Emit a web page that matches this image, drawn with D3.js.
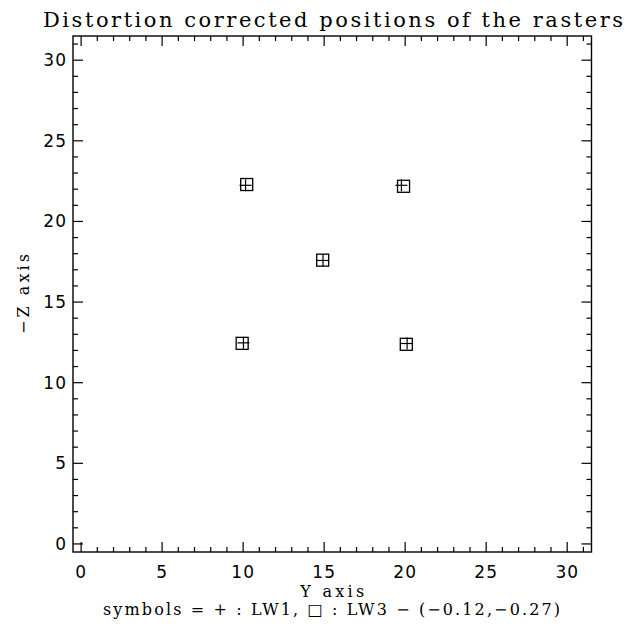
<!DOCTYPE html>
<html>
<head>
<meta charset="utf-8">
<script src="https://cdn.jsdelivr.net/npm/d3@7"></script>
<style>
  body { margin: 0; background: #fff; }
  svg { display: block; }
</style>
</head>
<body>
<div id="chart"></div>
<script>
// Positions (data units)
const plusY = [10.15, 19.77, 14.93, 10.02, 20.12];
const plusZ = [22.24, 22.24, 17.58, 12.47, 12.43];
const squareY = [10.22, 19.90, 14.91, 9.94, 20.07];
const squareZ = [22.29, 22.18, 17.60, 12.44, 12.38];
const majorTicks = [0, 5, 10, 15, 20, 25, 30];
const minorTicks = d3.range(0, 32);
const axisRange = [-0.5, 31.5];

const W = 626, H = 633;
const margin = {top: 36, right: 34.5, bottom: 81, left: 73};
const width = W - margin.left - margin.right,
      height = H - margin.top - margin.bottom;

const svg = d3.select("#chart").append("svg")
    .attr("width", W)
    .attr("height", H);

const g = svg.append("g")
    .attr("transform", `translate(${margin.left},${margin.top})`);

const x = d3.scaleLinear().domain(axisRange).range([0, width]);
const y = d3.scaleLinear().domain(axisRange).range([height, 0]);

const serif = "'DejaVu Serif', 'Liberation Serif', serif";
const sans = "'DejaVu Sans', Arial, sans-serif";

// ticks on all four sides (IDL style, pointing inwards)
function drawTicks(values, len, cls) {
  // bottom
  g.selectAll(".tb" + cls).data(values).enter().append("line")
    .attr("x1", d => x(d)).attr("x2", d => x(d))
    .attr("y1", height).attr("y2", height - len);
  // top
  g.selectAll(".tt" + cls).data(values).enter().append("line")
    .attr("x1", d => x(d)).attr("x2", d => x(d))
    .attr("y1", 0).attr("y2", len);
  // left
  g.selectAll(".tl" + cls).data(values).enter().append("line")
    .attr("y1", d => y(d)).attr("y2", d => y(d))
    .attr("x1", 0).attr("x2", len);
  // right
  g.selectAll(".tr" + cls).data(values).enter().append("line")
    .attr("y1", d => y(d)).attr("y2", d => y(d))
    .attr("x1", width).attr("x2", width - len);
}
drawTicks(minorTicks.filter(d => d % 5 !== 0), 5, "min");
drawTicks(majorTicks, 10, "maj");
g.selectAll("line").attr("stroke", "#000").attr("stroke-width", 1.2);

// frame
g.append("rect")
  .attr("width", width).attr("height", height)
  .attr("fill", "none").attr("stroke", "#000").attr("stroke-width", 1.4);

// tick labels
g.selectAll(".xlab").data(majorTicks).enter().append("text")
  .attr("x", d => x(d)).attr("y", height + 26)
  .attr("text-anchor", "middle")
  .style("font-family", sans).style("font-size", "17px")
  .style("letter-spacing", "1px")
  .text(d => d);

g.selectAll(".ylab").data(majorTicks).enter().append("text")
  .attr("x", -6).attr("y", d => y(d) + 6)
  .attr("text-anchor", "end")
  .style("font-family", sans).style("font-size", "17px")
  .style("letter-spacing", "1px")
  .text(d => d);

// plus symbols
const plusData = plusY.map((v, i) => ({y: v, z: plusZ[i]}));
const s = 6;
plusData.forEach(d => {
  g.append("line")
    .attr("x1", x(d.y) - s).attr("x2", x(d.y) + s)
    .attr("y1", y(d.z)).attr("y2", y(d.z))
    .attr("stroke", "#000").attr("stroke-width", 1.2);
  g.append("line")
    .attr("x1", x(d.y)).attr("x2", x(d.y))
    .attr("y1", y(d.z) - s).attr("y2", y(d.z) + s)
    .attr("stroke", "#000").attr("stroke-width", 1.2);
});

// square symbols
const squareData = squareY.map((v, i) => ({y: v, z: squareZ[i]}));
g.selectAll(".sq").data(squareData).enter().append("rect")
  .attr("class", "sq")
  .attr("x", d => x(d.y) - 6).attr("y", d => y(d.z) - 6)
  .attr("width", 12).attr("height", 12)
  .attr("fill", "none").attr("stroke", "#000").attr("stroke-width", 1.3);

// title
svg.append("text")
  .attr("x", 333).attr("y", 27)
  .attr("text-anchor", "middle")
  .attr("textLength", 580).attr("lengthAdjust", "spacing")
  .style("font-family", serif).style("font-size", "21px")
  .text("Distortion corrected positions of the rasters");

// axis titles
svg.append("text")
  .attr("x", margin.left + width / 2).attr("y", 597)
  .attr("text-anchor", "middle")
  .attr("textLength", 64).attr("lengthAdjust", "spacing")
  .style("font-family", serif).style("font-size", "16px")
  .text("Y axis");

svg.append("text")
  .attr("transform", `translate(29,${margin.top + height / 2}) rotate(-90)`)
  .attr("text-anchor", "middle")
  .attr("textLength", 80).attr("lengthAdjust", "spacing")
  .style("font-family", serif).style("font-size", "16px")
  .text("\u2212Z axis");

svg.append("text")
  .attr("x", 331.5).attr("y", 615)
  .attr("text-anchor", "middle")
  .attr("textLength", 457).attr("lengthAdjust", "spacing")
  .style("font-family", serif).style("font-size", "16px")
  .text("symbols = + : LW1, \u25A1 : LW3 \u2212 (\u22120.12,\u22120.27)");
</script>
</body>
</html>
